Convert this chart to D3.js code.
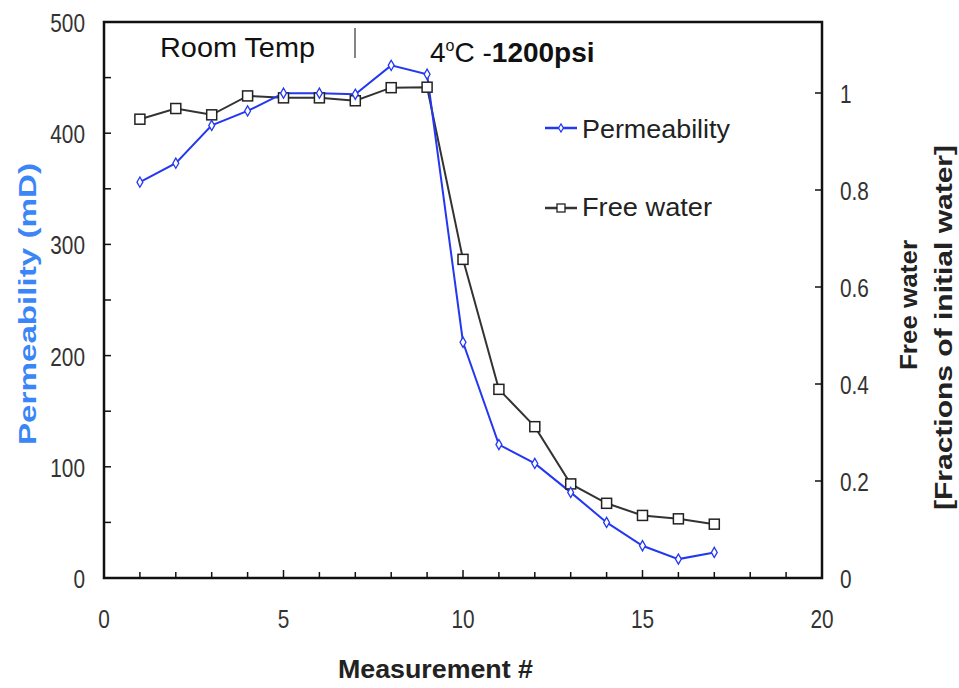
<!DOCTYPE html>
<meta charset="utf-8">
<head>
  <script src="https://d3js.org/d3.v7.min.js"></script>
  <style>
    body { margin: 0; background: #fff; font-family: 'Liberation Sans', Arial, sans-serif; }
  </style>
</head>
<div id="my_dataviz"></div>
<script>
  // data
  var measurement = [1, 2, 3, 4, 5, 6, 7, 8, 9, 10, 11, 12, 13, 14, 15, 16, 17];
  var permeability = [356, 373, 407, 420, 436, 436, 435, 461, 453, 212, 120, 103, 77, 50, 29, 17, 23];
  var freeWater = [0.946, 0.968, 0.955, 0.994, 0.990, 0.990, 0.984, 1.011, 1.012, 0.657, 0.389, 0.312, 0.194, 0.154, 0.129, 0.122, 0.111];
  var leftTicks = [0, 100, 200, 300, 400, 500];
  var rightTicks = [0, 0.2, 0.4, 0.6, 0.8, 1];
  var xTicks = [0, 5, 10, 15, 20];

  var margin = {top: 22, right: 137, bottom: 110, left: 104},
    width = 959 - margin.left - margin.right,
    height = 688 - margin.top - margin.bottom;

  var svg = d3.select("#my_dataviz")
    .append("svg")
    .attr("width", 959)
    .attr("height", 688)
    .append("g")
    .attr("transform", "translate(" + margin.left + "," + margin.top + ")");

  var x = d3.scaleLinear().domain([0, 20]).range([0, width]);
  var y = d3.scaleLinear().domain([0, 500]).range([height, 0]);
  var y2 = d3.scaleLinear().domain([0, 1.1464]).range([height, 0]);

  var labelColor = "#333";
  var blue = "#2338f0";

  // the original's lettering is tall and narrow, so squeeze it horizontally
  function squeeze(px, py) {
    return "translate(" + px + "," + py + ") scale(0.8,1)";
  }

  // frame
  svg.append("rect")
    .attr("width", width).attr("height", height)
    .attr("fill", "none").attr("stroke", "#111").attr("stroke-width", 2.5);

  // bottom ticks (inward)
  svg.append("g")
    .selectAll("line")
    .data(d3.range(1, 20))
    .enter().append("line")
    .attr("x1", function (d) { return x(d); })
    .attr("x2", function (d) { return x(d); })
    .attr("y1", height)
    .attr("y2", function (d) { return height - (d % 5 === 0 ? 8 : 6); })
    .attr("stroke", "#111").attr("stroke-width", 1.5);

  svg.append("g")
    .selectAll("text")
    .data(xTicks)
    .enter().append("text")
    .attr("transform", function (d) { return squeeze(x(d), height + 50); })
    .attr("text-anchor", "middle")
    .attr("font-size", 26)
    .attr("fill", labelColor)
    .text(function (d) { return d; });

  // left ticks
  svg.append("g")
    .selectAll("line")
    .data(d3.range(50, 500, 50))
    .enter().append("line")
    .attr("x1", 0).attr("x2", 7)
    .attr("y1", function (d) { return y(d); })
    .attr("y2", function (d) { return y(d); })
    .attr("stroke", "#111").attr("stroke-width", 1.5);

  svg.append("g")
    .selectAll("text")
    .data(leftTicks)
    .enter().append("text")
    .attr("transform", function (d) { return squeeze(-19, y(d) + 10); })
    .attr("text-anchor", "end")
    .attr("font-size", 26)
    .attr("fill", labelColor)
    .text(function (d) { return d; });

  // right ticks
  svg.append("g")
    .selectAll("line")
    .data(rightTicks.slice(1))
    .enter().append("line")
    .attr("x1", width).attr("x2", width - 7)
    .attr("y1", function (d) { return y2(d); })
    .attr("y2", function (d) { return y2(d); })
    .attr("stroke", "#111").attr("stroke-width", 1.5);

  svg.append("g")
    .selectAll("text")
    .data(rightTicks)
    .enter().append("text")
    .attr("transform", function (d) { return squeeze(width + 18, y2(d) + 10); })
    .attr("text-anchor", "start")
    .attr("font-size", 26)
    .attr("fill", labelColor)
    .text(function (d) { return d; });

  // axis titles
  svg.append("text")
    .attr("x", 234)
    .attr("y", height + 100)
    .attr("font-size", 26)
    .attr("font-weight", "bold")
    .attr("fill", "#222")
    .attr("textLength", 195)
    .attr("lengthAdjust", "spacingAndGlyphs")
    .text("Measurement #");

  svg.append("text")
    .attr("transform", "translate(" + (-68) + "," + 423 + ") rotate(-90)")
    .attr("font-size", 24)
    .attr("font-weight", "bold")
    .attr("fill", "#3b86f7")
    .attr("textLength", 282)
    .attr("lengthAdjust", "spacingAndGlyphs")
    .text("Permeability (mD)");

  svg.append("text")
    .attr("transform", "translate(" + (width + 95) + "," + 348 + ") rotate(-90)")
    .attr("font-size", 24)
    .attr("font-weight", "bold")
    .attr("fill", "#222")
    .attr("textLength", 130)
    .attr("lengthAdjust", "spacingAndGlyphs")
    .text("Free water");

  svg.append("text")
    .attr("transform", "translate(" + (width + 130) + "," + 488 + ") rotate(-90)")
    .attr("font-size", 24)
    .attr("font-weight", "bold")
    .attr("fill", "#222")
    .attr("textLength", 365)
    .attr("lengthAdjust", "spacingAndGlyphs")
    .text("[Fractions of initial water]");

  // annotations
  svg.append("text")
    .attr("x", 56).attr("y", 35)
    .attr("font-size", 28)
    .attr("fill", "#111")
    .attr("textLength", 155)
    .attr("lengthAdjust", "spacingAndGlyphs")
    .text("Room Temp");
  svg.append("line")
    .attr("x1", 251).attr("x2", 251)
    .attr("y1", 6).attr("y2", 36)
    .attr("stroke", "#333").attr("stroke-width", 1.2);
  var t = svg.append("text")
    .attr("transform", "translate(326,40) scale(1,1)")
    .attr("font-size", 28)
    .attr("fill", "#111");
  t.append("tspan").text("4");
  t.append("tspan").attr("font-size", 16).attr("dy", -11).text("o");
  t.append("tspan").attr("dy", 11).text("C -");
  t.append("tspan").attr("font-weight", "bold").text("1200psi");

  // lines
  var permData = measurement.map(function (m, i) { return {x: m, v: permeability[i]}; });
  var waterData = measurement.map(function (m, i) { return {x: m, v: freeWater[i]}; });

  svg.append("path")
    .datum(waterData)
    .attr("fill", "none")
    .attr("stroke", "#333")
    .attr("stroke-width", 2)
    .attr("d", d3.line()
      .x(function (d) { return x(d.x); })
      .y(function (d) { return y2(d.v); }));

  svg.append("path")
    .datum(permData)
    .attr("fill", "none")
    .attr("stroke", blue)
    .attr("stroke-width", 2)
    .attr("d", d3.line()
      .x(function (d) { return x(d.x); })
      .y(function (d) { return y(d.v); }));

  svg.append("g")
    .selectAll("rect")
    .data(waterData)
    .enter().append("rect")
    .attr("x", function (d) { return x(d.x) - 5; })
    .attr("y", function (d) { return y2(d.v) - 5; })
    .attr("width", 10).attr("height", 10)
    .attr("fill", "#fff")
    .attr("stroke", "#222")
    .attr("stroke-width", 1.5);

  svg.append("g")
    .selectAll("path")
    .data(permData)
    .enter().append("path")
    .attr("transform", function (d) { return "translate(" + x(d.x) + "," + y(d.v) + ")"; })
    .attr("d", d3.symbol().type(d3.symbolDiamond).size(30))
    .attr("fill", "#fff")
    .attr("stroke", blue)
    .attr("stroke-width", 1.3);

  // legend
  var legend = svg.append("g").attr("transform", "translate(441,106)");
  legend.append("line").attr("x1", 0).attr("x2", 32).attr("y1", 0).attr("y2", 0)
    .attr("stroke", blue).attr("stroke-width", 2.5);
  legend.append("path").attr("transform", "translate(16,0)")
    .attr("d", d3.symbol().type(d3.symbolDiamond).size(20))
    .attr("fill", "#fff").attr("stroke", blue).attr("stroke-width", 1.2);
  legend.append("text").attr("x", 37).attr("y", 10)
    .attr("font-size", 25).attr("fill", "#222")
    .attr("textLength", 148).attr("lengthAdjust", "spacingAndGlyphs")
    .text("Permeability");

  legend.append("line").attr("x1", 0).attr("x2", 32).attr("y1", 80).attr("y2", 80)
    .attr("stroke", "#333").attr("stroke-width", 2.5);
  legend.append("rect").attr("x", 12).attr("y", 76).attr("width", 8).attr("height", 8)
    .attr("fill", "#fff").attr("stroke", "#222").attr("stroke-width", 1.3);
  legend.append("text").attr("x", 37).attr("y", 88)
    .attr("font-size", 25).attr("fill", "#222")
    .attr("textLength", 130).attr("lengthAdjust", "spacingAndGlyphs")
    .text("Free water");
</script>
